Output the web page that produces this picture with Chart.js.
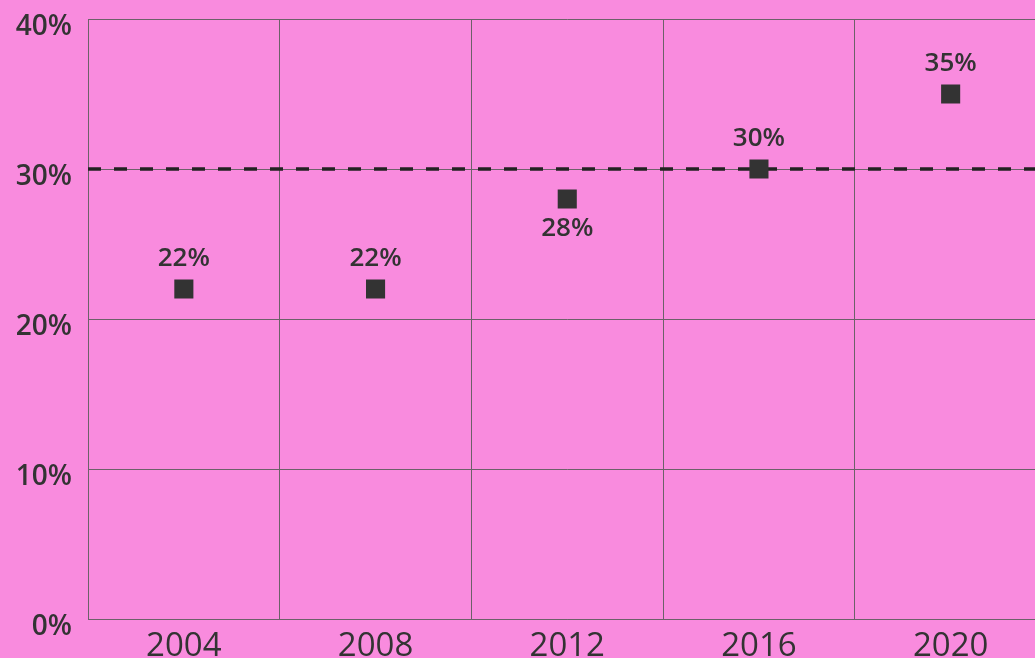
<!DOCTYPE html>
<html>
<head>
<meta charset="utf-8">
<script src="https://cdn.jsdelivr.net/npm/chart.js@4"></script>
<style>
  html, body { margin: 0; padding: 0; background: #f98bde; overflow: hidden; }
  #wrap { position: relative; width: 1060px; height: 690px; }
</style>
</head>
<body>
<div id="wrap"><canvas id="chart"></canvas></div>
<script>
// values
const years = ['2004', '2008', '2012', '2016', '2020'];
const shares = [22, 22, 28, 30, 35];
const labelSide = ['above', 'above', 'below', 'above', 'above'];
const yTicks = [0, 10, 20, 30, 40];
const refLine = 30;

const ink = '#333333';
const gridCol = '#6c6169';

// draws the value labels next to each square
const valueLabels = {
  id: 'valueLabels',
  afterDatasetsDraw(chart) {
    const ctx = chart.ctx;
    const meta = chart.getDatasetMeta(0);
    ctx.save();
    ctx.font = '600 26px "Open Sans"';
    ctx.fillStyle = ink;
    ctx.textAlign = 'center';
    ctx.textBaseline = 'middle';
    meta.data.forEach((pt, i) => {
      const dy = labelSide[i] === 'below' ? 30 : -30;
      ctx.fillText(shares[i] + '%', pt.x, pt.y + dy);
    });
    ctx.restore();
  }
};

// dashed reference line at 30%
const refLinePlugin = {
  id: 'refLine',
  beforeDatasetsDraw(chart) {
    const ctx = chart.ctx;
    const y = chart.scales.y.getPixelForValue(refLine);
    const area = chart.chartArea;
    ctx.save();
    ctx.strokeStyle = '#222222';
    ctx.lineWidth = 3.5;
    ctx.setLineDash([13, 13]);
    ctx.beginPath();
    ctx.moveTo(area.left, y);
    ctx.lineTo(area.right, y);
    ctx.stroke();
    ctx.restore();
  }
};

new Chart(document.getElementById('chart'), {
  type: 'line',
  data: {
    labels: years,
    datasets: [{
      data: shares,
      showLine: false,
      pointStyle: 'rect',
      pointRadius: 13.5,
      pointHoverRadius: 13.5,
      backgroundColor: ink,
      borderColor: ink,
      borderWidth: 0
    }]
  },
  options: {
    responsive: true,
    maintainAspectRatio: false,
    animation: false,
    layout: { padding: { top: 19, right: 12, left: 0, bottom: 0 } },
    plugins: {
      legend: { display: false },
      tooltip: { enabled: false }
    },
    scales: {
      x: {
        offset: true,
        grid: { color: gridCol, lineWidth: 1, drawTicks: false, offset: true },
        border: { color: gridCol, width: 1 },
        ticks: {
          color: ink,
          padding: 8,
          font: { family: '"Open Sans"', size: 33, weight: '400' }
        },
        afterFit(scale) {
          scale.height = 71;
          scale.paddingLeft = 0;
          scale.paddingRight = 0;
        }
      },
      y: {
        min: 0,
        max: 40,
        afterBuildTicks(scale) { scale.ticks = yTicks.map(v => ({ value: v })); },
        grid: { color: gridCol, lineWidth: 1, drawTicks: false },
        border: { color: gridCol, width: 1 },
        ticks: {
          color: ink,
          padding: 16,
          labelOffset: 8,
          font: { family: '"Open Sans"', size: 28, weight: '600' },
          callback: v => v + '%'
        },
        afterFit(scale) {
          scale.width = 88;
          scale.paddingTop = 0;
          scale.paddingBottom = 0;
        }
      }
    }
  },
  plugins: [refLinePlugin, valueLabels]
});
</script>
</body>
</html>
